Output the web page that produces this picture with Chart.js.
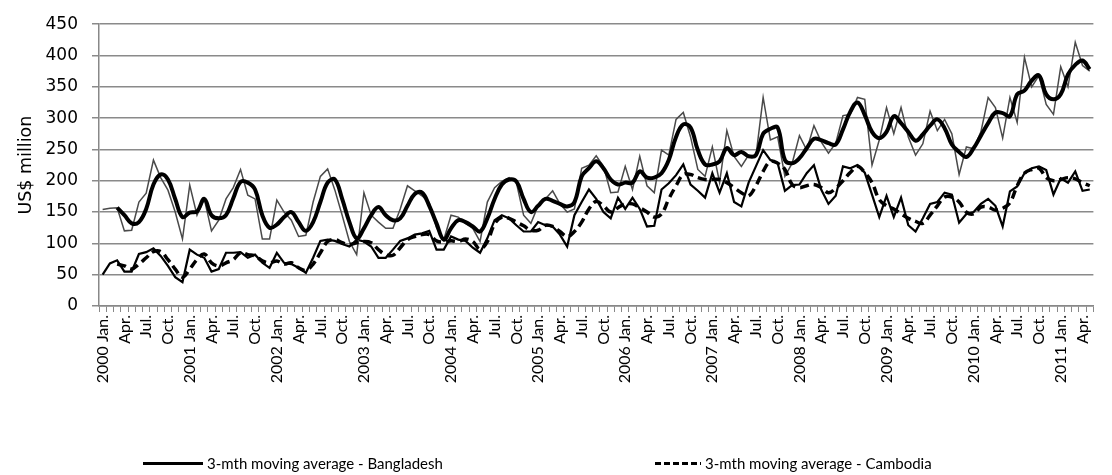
<!DOCTYPE html>
<html>
<head>
<meta charset="utf-8">
<script src="https://cdn.jsdelivr.net/npm/chart.js@4/dist/chart.umd.min.js"></script>
<style>
html, body { margin: 0; padding: 0; background: #fff; }
#wrap { position: relative; width: 1112px; height: 475px; }
#legend { position: absolute; left: 0; top: 452px; width: 1112px; height: 22px; font: 15px Lato, sans-serif; color: #000; }
.item { position: absolute; top: 0; height: 22px; display: flex; align-items: center; white-space: nowrap; }
.swatch { display: inline-block; width: 60px; height: 3px; background: #000; margin-right: 4px; }
.dash { width: 46px; background: repeating-linear-gradient(90deg, #000 0 6px, transparent 6px 9px); }
</style>
</head>
<body>
<div id="wrap">
  <canvas id="chart" width="1112" height="475"></canvas>
  <div id="legend">
    <div class="item" style="left:143px"><span class="swatch"></span>3-mth moving average - Bangladesh</div>
    <div class="item" style="left:655px"><span class="swatch dash"></span>3-mth moving average - Cambodia</div>
  </div>
</div>
<script>
// Categories: monthly, Jan 2000 - May 2011
const years = [2000, 2001, 2002, 2003, 2004, 2005, 2006, 2007, 2008, 2009, 2010, 2011];
const monthNames = ['Jan.', 'Feb.', 'Mar.', 'Apr.', 'May', 'Jun.', 'Jul.', 'Aug.', 'Sep.', 'Oct.', 'Nov.', 'Dec.'];
const lastMonthCount = 137;

// Bangladesh monthly (US$ million)
const bangladesh = [
  154, 156, 157, 120, 121, 166, 180, 233, 205, 185, 150, 107,
  193, 145, 171, 120, 137, 171, 189, 218, 177, 171, 107, 107,
  169, 150, 137, 111, 113, 166, 207, 219, 185, 145, 103, 82,
  181, 145, 134, 124, 124, 155, 192, 184, 176, 165, 125, 106,
  145, 142, 132, 124, 103, 166, 189, 199, 205, 197, 145, 132,
  160, 171, 184, 163, 150, 155, 220, 225, 240, 223, 181, 182,
  223, 186, 239, 192, 181, 249, 241, 298, 309, 270, 218, 207,
  254, 197, 280, 239, 223, 241, 239, 333, 265, 270, 207, 228,
  272, 249, 288, 262, 244, 260, 304, 306, 333, 330, 225, 265,
  317, 275, 317, 270, 241, 259, 311, 280, 298, 275, 210, 254,
  251, 278, 333, 317, 268, 333, 293, 397, 350, 368, 322, 306,
  382, 350, 421, 384, 375
];

// Bangladesh 3-month moving average
const bangladeshMA = [
  null, null, 157, 145, 132, 134, 155, 194, 210, 202, 171, 142,
  149, 151, 171, 145, 140, 145, 172, 198, 197, 186, 145, 125,
  130, 142, 150, 134, 120, 134, 166, 197, 202, 171, 134, 108,
  124, 145, 158, 145, 137, 140, 160, 179, 181, 160, 132, 106,
  124, 137, 134, 127, 119, 140, 171, 194, 202, 199, 171, 150,
  160, 171, 168, 163, 159, 166, 207, 220, 231, 220, 202, 194,
  197, 197, 215, 205, 205, 212, 233, 270, 290, 285, 249, 226,
  226, 231, 252, 241, 246, 239, 241, 275, 283, 285, 233, 228,
  236, 252, 267, 265, 260, 258, 282, 310, 325, 305, 278, 268,
  278, 303, 292, 278, 264, 274, 288, 298, 284, 258, 246, 238,
  252, 272, 292, 309, 308, 303, 338, 344, 360, 368, 338, 330,
  338, 370, 385, 392, 378
];

// Cambodia monthly (US$ million)
const cambodia = [
  50, 68, 73, 55, 55, 83, 86, 92, 80, 64, 46, 38,
  90, 82, 77, 55, 59, 85, 85, 86, 77, 82, 69, 61,
  85, 69, 67, 61, 53, 77, 104, 106, 104, 99, 95, 106,
  103, 95, 77, 77, 90, 104, 108, 114, 116, 120, 90, 90,
  111, 106, 104, 93, 85, 108, 137, 145, 140, 129, 119, 119,
  134, 129, 127, 114, 95, 145, 166, 186, 171, 150, 140, 173,
  155, 173, 155, 127, 128, 186, 196, 209, 226, 194, 184, 173,
  212, 181, 212, 166, 159, 197, 223, 249, 233, 228, 184, 193,
  194, 212, 225, 186, 163, 176, 223, 220, 225, 213, 178, 142,
  176, 142, 173, 129, 119, 140, 163, 166, 181, 178, 133, 147,
  150, 163, 171, 160, 127, 183, 191, 212, 220, 223, 217, 178,
  204, 197, 215, 184, 186
];

// Cambodia 3-month moving average
const cambodiaMA = [
  null, null, 67, 64, 59, 67, 77, 87, 87, 74, 59, 46,
  59, 74, 83, 69, 64, 69, 74, 85, 82, 80, 72, 69,
  72, 67, 69, 61, 57, 67, 85, 103, 106, 101, 98, 101,
  103, 101, 90, 82, 81, 93, 106, 111, 114, 114, 104, 102,
  104, 103, 107, 103, 91, 103, 131, 142, 140, 134, 128, 121,
  121, 129, 127, 119, 111, 119, 134, 155, 167, 160, 150, 157,
  163, 163, 157, 150, 142, 147, 171, 192, 210, 210, 205, 202,
  202, 202, 197, 189, 181, 176, 192, 215, 231, 228, 218, 194,
  189, 192, 194, 189, 181, 188, 200, 213, 223, 213, 197, 170,
  160, 155, 147, 140, 135, 132, 145, 160, 174, 174, 166, 150,
  147, 158, 158, 153, 156, 165, 192, 212, 218, 220, 205, 200,
  202, 205, 203, 197, 192
];

const labels = [];
years.forEach(y => monthNames.forEach((m, k) => {
  if (labels.length < lastMonthCount) labels.push(k === 0 ? y + ' ' + m : m);
}));

const ctx = document.getElementById('chart').getContext('2d');
new Chart(ctx, {
  type: 'line',
  data: {
    labels: labels,
    datasets: [
      {
        label: '3-mth moving average - Bangladesh',
        data: bangladeshMA,
        borderColor: '#000',
        borderWidth: 4,
        tension: 0.4,
        pointRadius: 0
      },
      {
        label: '3-mth moving average - Cambodia',
        data: cambodiaMA,
        borderColor: '#000',
        borderWidth: 3.5,
        borderDash: [9, 5],
        tension: 0.4,
        pointRadius: 0
      },
      {
        label: 'Bangladesh',
        data: bangladesh,
        borderColor: '#4a4a4a',
        borderWidth: 1.5,
        tension: 0,
        pointRadius: 0
      },
      {
        label: 'Cambodia',
        data: cambodia,
        borderColor: '#000',
        borderWidth: 2.2,
        tension: 0,
        pointRadius: 0
      }
    ]
  },
  options: {
    responsive: false,
    animation: false,
    layout: { padding: { left: 0, right: 9, top: 18, bottom: 0 } },
    plugins: {
      legend: { display: false },
      tooltip: { enabled: false }
    },
    scales: {
      x: {
        offset: true,
        afterFit: s => { s.height = 169; },
        grid: {
          offset: true,
          drawOnChartArea: false,
          drawTicks: true,
          tickLength: 6,
          color: '#888',
          lineWidth: 1
        },
        border: { color: '#888', width: 1.5 },
        ticks: {
          autoSkip: false,
          maxRotation: 90,
          minRotation: 90,
          padding: 3,
          color: '#000',
          font: { family: 'Lato', size: 16 },
          callback: (v, i) => (i % 3 === 0 ? labels[i] : '')
        }
      },
      y: {
        min: 0,
        max: 450,
        afterFit: s => { s.width = 99; },
        grid: {
          color: '#8a8a8a',
          lineWidth: 1.5,
          tickLength: 7
        },
        border: { color: '#888', width: 1.5 },
        title: {
          display: true,
          text: 'US$ million',
          color: '#000',
          font: { family: 'DejaVu Sans', size: 17.5 },
          padding: { top: 16, bottom: 0 }
        },
        ticks: {
          stepSize: 50,
          padding: 14,
          color: '#000',
          font: { family: 'DejaVu Sans', size: 17 }
        }
      }
    }
  }
});
</script>
</body>
</html>
